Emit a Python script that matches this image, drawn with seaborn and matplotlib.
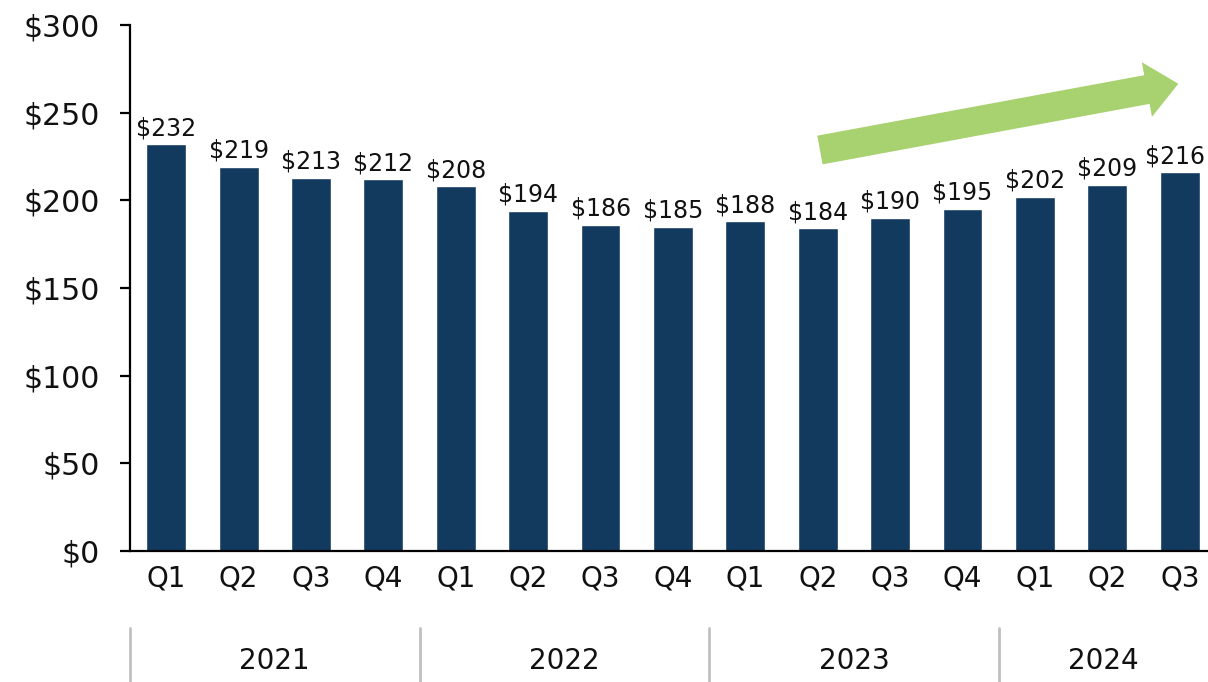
import matplotlib
matplotlib.use("Agg")
import matplotlib.pyplot as plt
import seaborn as sns
import pandas as pd

years = ["2021", "2021", "2021", "2021", "2022", "2022", "2022", "2022",
         "2023", "2023", "2023", "2023", "2024", "2024", "2024"]
quarters = ["Q1", "Q2", "Q3", "Q4", "Q1", "Q2", "Q3", "Q4",
            "Q1", "Q2", "Q3", "Q4", "Q1", "Q2", "Q3"]
values = [232, 219, 213, 212, 208, 194, 186, 185, 188, 184, 190, 195, 202, 209, 216]
year_labels = ["2021", "2022", "2023", "2024"]
y_ticks = [0, 50, 100, 150, 200, 250, 300]

sns.set_theme(style="white")
plt.rcParams["font.family"] = ["DejaVu Sans"]

df = pd.DataFrame({"period": [f"{y} {q}" for y, q in zip(years, quarters)],
                   "value": values})

fig = plt.figure(figsize=(12.08, 6.82), dpi=100)
ax = fig.add_axes([130 / 1208, 1 - 551 / 682, 1 - 130 / 1208, (551 - 25) / 682])

bar_color = "#123a5f"
sns.barplot(data=df, x="period", y="value", color=bar_color, saturation=1,
            width=0.55, ax=ax)

ax.set_ylim(0, 300)
ax.set_xlim(-0.5, 14.39)
ax.set_yticks(y_ticks)
ax.set_yticklabels([f"${v}" for v in y_ticks], fontsize=21.5, color="#111111")
ax.set_xticks(range(len(quarters)))
ax.set_xticklabels(quarters, fontsize=20, color="#111111")
ax.set_xlabel("")
ax.set_ylabel("")

for s in ["top", "right"]:
    ax.spines[s].set_visible(False)
for s in ["left", "bottom"]:
    ax.spines[s].set_color("black")
    ax.spines[s].set_linewidth(1.6)

ax.tick_params(axis="y", which="both", left=True, length=7.5, width=1.6,
               color="black", pad=14)
ax.tick_params(axis="x", which="both", bottom=False, length=0, pad=10)

for c in ax.containers:
    texts = ax.bar_label(c, labels=[f"${v}" for v in values], padding=3,
                         fontsize=17, color="#111111")
    if texts:
        texts[-1].xyann = (-3.5, 3)

# Year group labels and separators
trans = ax.get_xaxis_transform()
group_starts = [-0.5, 3.5, 7.5, 11.5]
group_ends = [3.5, 7.5, 11.5, 14.5]
for xs in group_starts:
    ax.plot([xs, xs], [-0.146, -0.25], transform=trans, color="#c0c0c0",
            lw=2, clip_on=False)
for lab, a, b in zip(year_labels, group_starts, group_ends):
    ax.text((a + b) / 2 - (0.05 if lab == "2024" else 0), -0.21, lab,
            transform=trans, ha="center", va="center",
            fontsize=20, color="#111111")

# Green trend arrow
ax.annotate("", xy=(13.98, 266.5), xytext=(9.03, 228.7),
            arrowprops=dict(arrowstyle="simple,head_length=1.15,head_width=2.0,tail_width=1.05",
                            mutation_scale=20, color="#a8d16f", lw=0,
                            shrinkA=0, shrinkB=0),
            annotation_clip=False)

fig.savefig("out.png", dpi=100)
